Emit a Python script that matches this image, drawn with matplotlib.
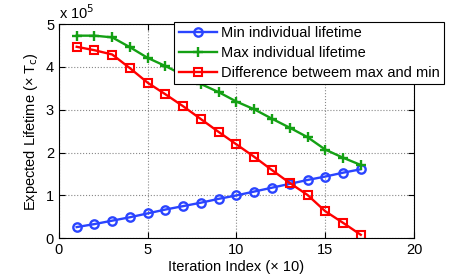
import matplotlib
matplotlib.use("Agg")
import matplotlib.pyplot as plt

plt.rcParams['font.family'] = ['Liberation Sans', 'DejaVu Sans']

iteration = [1, 2, 3, 4, 5, 6, 7, 8, 9, 10, 11, 12, 13, 14, 15, 16, 17]
# lifetimes in units of 1e5
min_life = [0.26, 0.33, 0.41, 0.49, 0.58, 0.67, 0.75, 0.83, 0.92, 1.00,
            1.09, 1.18, 1.27, 1.36, 1.44, 1.53, 1.61]
max_life = [4.73, 4.73, 4.69, 4.46, 4.21, 4.02, 3.81, 3.60, 3.41, 3.19,
            3.01, 2.79, 2.58, 2.36, 2.07, 1.88, 1.71]
diff_life = [4.47, 4.39, 4.29, 3.97, 3.63, 3.36, 3.08, 2.78, 2.48, 2.19,
             1.90, 1.59, 1.29, 1.01, 0.63, 0.36, 0.08]

fig = plt.figure(figsize=(4.57, 2.77), dpi=100)
ax = fig.add_axes([0.129, 0.140, 0.777, 0.773])

ax.plot(iteration, min_life, color='#2a44ff', lw=1.7, marker='o', ms=6,
        mfc='none', mew=1.7, label='Min individual lifetime')
ax.plot(iteration, max_life, color='#14a014', lw=1.7, marker='+', ms=7,
        mew=1.7, label='Max individual lifetime')
ax.plot(iteration, diff_life, color='#ff0000', lw=1.7, marker='s', ms=5.5,
        mfc='none', mew=1.5, label='Difference betweem max and min')

ax.set_xlim(0, 20)
ax.set_ylim(0, 5)
ax.set_xticks([0, 5, 10, 15, 20])
ax.set_yticks([0, 1, 2, 3, 4, 5])
ax.tick_params(direction='in', top=True, right=True, labelsize=10.5, length=4)
ax.grid(True, linestyle=':', color='#888888', lw=0.8)
for s in ax.spines.values():
    s.set_linewidth(0.8)

ax.set_xlabel('Iteration Index (\u00d7 10)', fontsize=10.5, labelpad=2)
ax.set_ylabel('Expected Lifetime (\u00d7 T$_\\mathrm{c}$)', fontsize=10.5, labelpad=4)
ax.text(0.0, 1.01, 'x 10$^5$', transform=ax.transAxes, fontsize=10.5,
        ha='left', va='bottom')

leg = ax.legend(loc='upper right', bbox_to_anchor=(0.972, 0.922),
                bbox_transform=fig.transFigure, fontsize=10.5, fancybox=False,
                framealpha=1, edgecolor='black', borderpad=0.3,
                labelspacing=0.4, handlelength=2.6, handletextpad=0.3,
                borderaxespad=0)
leg.get_frame().set_linewidth(0.8)

fig.savefig('out.png', dpi=100)
